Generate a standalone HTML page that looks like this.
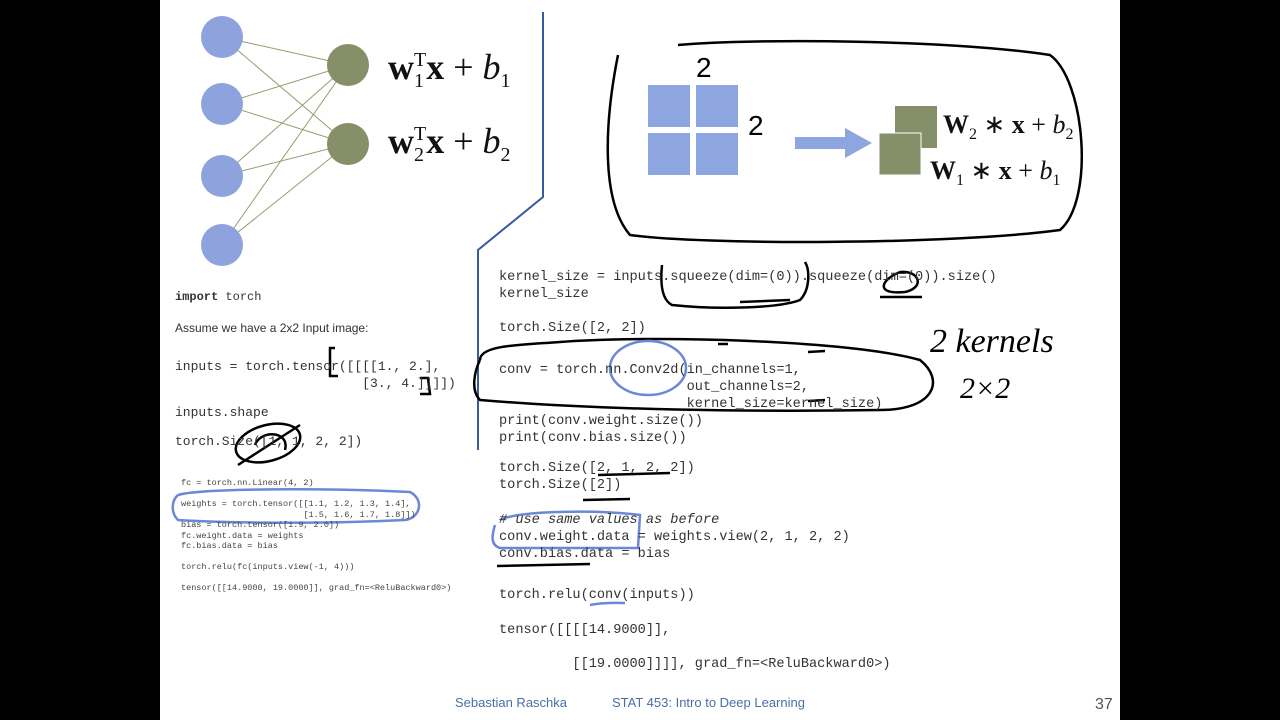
<!DOCTYPE html>
<html><head><style>
body{margin:0;width:1280px;height:720px;background:#000;position:relative;overflow:hidden;font-family:"Liberation Sans",sans-serif}
#s{position:absolute;left:160px;top:0;width:960px;height:720px;background:#fff}
.c{position:absolute;font-family:"Liberation Mono",monospace;font-size:13px;color:#333;white-space:pre;line-height:17px}
.r{position:absolute;left:499px;font-family:"Liberation Mono",monospace;font-size:13.6px;color:#333;white-space:pre;line-height:17px}
.sm{position:absolute;font-family:"Liberation Mono",monospace;font-size:8.5px;color:#444;white-space:pre;line-height:10.5px}
.t{position:absolute;white-space:nowrap}
.f{position:absolute;font-family:"Liberation Serif",serif;font-size:36px;color:#111;white-space:nowrap}
</style></head><body>
<div id="s"></div>
<svg width="1280" height="720" style="position:absolute;left:0;top:0">
<g stroke="#9a9a70" stroke-width="1">
<line x1="222" y1="37" x2="348" y2="65"/><line x1="222" y1="104" x2="348" y2="65"/><line x1="222" y1="176" x2="348" y2="65"/><line x1="222" y1="245" x2="348" y2="65"/>
<line x1="222" y1="37" x2="348" y2="144"/><line x1="222" y1="104" x2="348" y2="144"/><line x1="222" y1="176" x2="348" y2="144"/><line x1="222" y1="245" x2="348" y2="144"/>
</g>
<g fill="#8ea3dd"><circle cx="222" cy="37" r="21"/><circle cx="222" cy="104" r="21"/><circle cx="222" cy="176" r="21"/><circle cx="222" cy="245" r="21"/></g>
<g fill="#858f68"><circle cx="348" cy="65" r="21"/><circle cx="348" cy="144" r="21"/></g>
<polyline points="543,12 543,197 478,250 478,450" fill="none" stroke="#3a5aa0" stroke-width="2"/>
<g fill="#8ea6e0"><rect x="648" y="85" width="42" height="42"/><rect x="696" y="85" width="42" height="42"/><rect x="648" y="133" width="42" height="42"/><rect x="696" y="133" width="42" height="42"/></g>
<rect x="795" y="137" width="50" height="12" fill="#8ea6e0"/><polygon points="845,128 872,143 845,158" fill="#8ea6e0"/>
<rect x="895" y="106" width="42" height="42" fill="#858f68"/><rect x="879" y="133" width="42" height="42" fill="#858f68" stroke="#fff" stroke-width="1"/>
<g fill="none" stroke="#000" stroke-width="2.5">
<path d="M618,55 C605,120 600,200 630,235 C700,245 950,245 1060,230 C1095,200 1085,80 1050,55 C950,40 760,38 678,45"/>
<path d="M480,360 C480,345 520,345 560,342 C650,335 850,340 920,360 C945,380 935,410 880,410 C750,412 600,410 480,400 C470,390 475,370 480,360"/>
<path d="M662,265 C660,285 662,300 672,305 C720,310 780,308 800,300 C810,290 810,270 805,262"/>
<path d="M900,272 C880,280 875,295 905,292 C925,288 920,270 900,272"/>
<path d="M740,302 L790,300 M880,297 L922,297 M598,475 L670,473 M583,500 L630,499 M497,566 L590,564 M808,352 L825,351 M808,401 L825,400 M718,344 L728,344"/>
<path d="M335,348 L330,348 L330,376 L338,376 M420,378 L428,378 L430,394 L420,394"/>
<ellipse cx="268" cy="443" rx="33" ry="18" transform="rotate(-15 268 443)"/>
<path d="M238,465 L300,425 M255,445 C260,430 290,430 285,450"/>
</g>
<g fill="none" stroke="#6a88d8" stroke-width="2.5">
<path d="M178,495 C200,488 330,488 410,492 C425,500 420,518 405,520 C300,525 210,522 178,520 C170,512 172,500 178,495"/>
<ellipse cx="648" cy="368" rx="38" ry="27"/>
<path d="M495,525 C492,535 490,545 500,548 L638,548 L640,515 C600,510 520,510 500,520"/>
<path d="M590,605 C605,602 620,603 625,603"/>
</g>
<text x="696" y="77" font-family="Liberation Sans" font-size="28" fill="#000">2</text>
<text x="748" y="135" font-family="Liberation Sans" font-size="28" fill="#000">2</text>
<text x="930" y="352" font-family="Liberation Serif" font-style="italic" font-size="34" fill="#000">2 kernels</text>
<text x="960" y="398" font-family="Liberation Serif" font-style="italic" font-size="30" fill="#000">2×2</text>
</svg>
<div class="f" style="left:388px;top:46px"><b>w</b><sub style="font-size:20px">1</sub><sup style="font-size:20px;margin-left:-10px">T</sup><b>x</b> + <i>b</i><sub style="font-size:20px">1</sub></div>
<div class="f" style="left:388px;top:120px"><b>w</b><sub style="font-size:20px">2</sub><sup style="font-size:20px;margin-left:-10px">T</sup><b>x</b> + <i>b</i><sub style="font-size:20px">2</sub></div>
<div class="f" style="left:943px;top:110px;font-size:26px"><b>W</b><sub style="font-size:16px">2</sub> ∗ <b>x</b> + <i>b</i><sub style="font-size:16px">2</sub></div>
<div class="f" style="left:930px;top:156px;font-size:26px"><b>W</b><sub style="font-size:16px">1</sub> ∗ <b>x</b> + <i>b</i><sub style="font-size:16px">1</sub></div>
<div class="c" style="left:175px;top:289px;font-size:12px"><b>import</b> torch</div>
<div class="t" style="left:175px;top:321px;font-size:12px;color:#333">Assume we have a 2x2 Input image:</div>
<div class="c" style="left:175px;top:358px">inputs = torch.tensor([[[[1., 2.],
                        [3., 4.]]]])</div>
<div class="c" style="left:175px;top:404px">inputs.shape</div>
<div class="c" style="left:175px;top:433px">torch.Size([1, 1, 2, 2])</div>
<div class="sm" style="left:181px;top:478px">fc = torch.nn.Linear(4, 2)

weights = torch.tensor([[1.1, 1.2, 1.3, 1.4],
                        [1.5, 1.6, 1.7, 1.8]])
bias = torch.tensor([1.9, 2.0])
fc.weight.data = weights
fc.bias.data = bias

torch.relu(fc(inputs.view(-1, 4)))

tensor([[14.9000, 19.0000]], grad_fn=&lt;ReluBackward0&gt;)</div>
<div class="r" style="top:269px">kernel_size = inputs.squeeze(dim=(0)).squeeze(dim=(0)).size()
kernel_size</div>
<div class="r" style="top:320px">torch.Size([2, 2])</div>
<div class="r" style="top:362px">conv = torch.nn.Conv2d(in_channels=1,
                       out_channels=2,
                       kernel_size=kernel_size)
print(conv.weight.size())
print(conv.bias.size())</div>
<div class="r" style="top:460px">torch.Size([2, 1, 2, 2])
torch.Size([2])</div>
<div class="r" style="top:512px"><i># use same values as before</i>
conv.weight.data = weights.view(2, 1, 2, 2)
conv.bias.data = bias</div>
<div class="r" style="top:587px">torch.relu(conv(inputs))</div>
<div class="r" style="top:622px">tensor([[[[14.9000]],</div>
<div class="r" style="top:656px">         [[19.0000]]]], grad_fn=&lt;ReluBackward0&gt;)</div>
<div class="t" style="left:455px;top:695px;font-size:13px;color:#4a6fa5">Sebastian Raschka</div>
<div class="t" style="left:612px;top:695px;font-size:13px;color:#4a6fa5">STAT 453: Intro to Deep Learning</div>
<div class="t" style="left:1095px;top:696px;font-size:16px;color:#555">37</div>
</body></html>
